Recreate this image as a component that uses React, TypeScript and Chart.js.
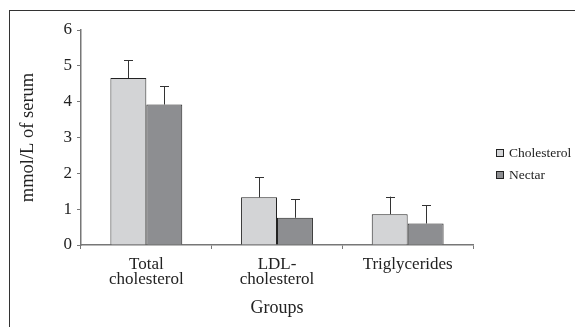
import React, { useEffect, useRef } from "react";
import { Chart, registerables } from "chart.js";

Chart.register(...registerables);

const categories: (string | string[])[] = [["Total", "cholesterol"], ["LDL-", "cholesterol"], "Triglycerides"];
const seriesNames = ["Cholesterol", "Nectar"];
const cholesterolValues = [4.66, 1.33, 0.86];
const cholesterolErrors = [0.5, 0.56, 0.49];
const nectarValues = [3.92, 0.76, 0.6];
const nectarErrors = [0.51, 0.52, 0.51];
const yTicks = [0, 1, 2, 3, 4, 5, 6];

const FONT = "'Liberation Serif', 'Times New Roman', serif";
const lightColor = "#d3d4d6";
const darkColor = "#8d8e91";

const errorBarPlugin = {
  id: "errorBars",
  afterDatasetsDraw(chart: any) {
    const ctx = chart.ctx;
    const yScale = chart.scales.y;
    chart.data.datasets.forEach((ds: any, i: number) => {
      const meta = chart.getDatasetMeta(i);
      meta.data.forEach((bar: any, j: number) => {
        const v = ds.data[j];
        const e = ds.errors[j];
        const yTop = yScale.getPixelForValue(v + e);
        const x = Math.round(bar.x) + 0.5;
        ctx.save();
        ctx.strokeStyle = "#333";
        ctx.lineWidth = 1;
        ctx.beginPath();
        ctx.moveTo(x, bar.y);
        ctx.lineTo(x, yTop);
        ctx.moveTo(x - 4.5, Math.round(yTop) + 0.5);
        ctx.lineTo(x + 4.5, Math.round(yTop) + 0.5);
        ctx.stroke();
        ctx.restore();
      });
    });
  },
};

const legendPlugin = {
  id: "customLegend",
  afterDraw(chart: any) {
    const ctx = chart.ctx;
    const items = [
      { label: seriesNames[0], color: lightColor, y: 153.5 },
      { label: seriesNames[1], color: darkColor, y: 175.5 },
    ];
    ctx.save();
    items.forEach((it) => {
      ctx.fillStyle = it.color;
      ctx.fillRect(496.5, it.y - 4, 7, 7);
      ctx.strokeStyle = "#222";
      ctx.lineWidth = 1;
      ctx.strokeRect(496.5, it.y - 4, 7, 7);
      ctx.fillStyle = "#222";
      ctx.font = `13.5px ${FONT}`;
      ctx.textBaseline = "middle";
      ctx.textAlign = "left";
      ctx.fillText(it.label, 509, it.y);
    });
    ctx.restore();
  },
};

export default function App() {
  const ref = useRef<HTMLCanvasElement | null>(null);
  useEffect(() => {
    if (!ref.current) return;
    const chart = new Chart(ref.current, {
      type: "bar",
      data: {
        labels: categories,
        datasets: [
          {
            label: seriesNames[0],
            data: cholesterolValues,
            errors: cholesterolErrors,
            backgroundColor: lightColor,
            borderColor: "#222",
            borderWidth: 1,
          } as any,
          {
            label: seriesNames[1],
            data: nectarValues,
            errors: nectarErrors,
            backgroundColor: darkColor,
            borderColor: "#222",
            borderWidth: 1,
          } as any,
        ],
      },
      options: {
        responsive: false,
        animation: false,
        devicePixelRatio: 1,
        layout: { padding: { left: 12, right: 102, top: 30, bottom: 0 } },
        datasets: { bar: { barPercentage: 1, categoryPercentage: 0.55 } },
        plugins: { legend: { display: false }, tooltip: { enabled: false } },
        scales: {
          x: {
            grid: { drawOnChartArea: false, drawTicks: true, tickLength: 4, color: "#777", offset: true },
            border: { display: true, color: "#777", width: 1.5 },
            ticks: { color: "#222", font: { family: FONT, size: 17, lineHeight: 0.9 }, padding: 8, maxRotation: 0, autoSkip: false },
            title: { display: true, text: "Groups", color: "#222", font: { family: FONT, size: 18 }, padding: { top: 0, bottom: 8 } },
            afterFit: (scale: any) => { scale.height = 82; },
          },
          y: {
            min: 0,
            max: 6,
            afterBuildTicks: (scale: any) => { scale.ticks = yTicks.map((v) => ({ value: v })); },
            grid: { drawOnChartArea: false, drawTicks: true, tickLength: 4, color: "#777" },
            border: { display: true, color: "#777", width: 1.5 },
            ticks: { color: "#222", font: { family: FONT, size: 17 }, padding: 5 },
            title: { display: true, text: "mmol/L of serum", color: "#222", font: { family: FONT, size: 18.5 }, padding: { top: 5, bottom: 0 } },
            afterFit: (scale: any) => { scale.width = 69; },
          },
        },
      } as any,
      plugins: [errorBarPlugin, legendPlugin],
    });
    return () => chart.destroy();
  }, []);
  return (
    <div style={{ position: "fixed", left: 0, top: 0, width: 575, height: 327, background: "#fff" }}>
      <div
        style={{
          position: "absolute",
          left: 9,
          top: 10,
          right: 0,
          bottom: 0,
          borderTop: "1.5px solid #333",
          borderLeft: "1.5px solid #333",
        }}
      />
      <canvas ref={ref} width={575} height={327} style={{ position: "absolute", left: 0, top: 0 }} />
    </div>
  );
}
